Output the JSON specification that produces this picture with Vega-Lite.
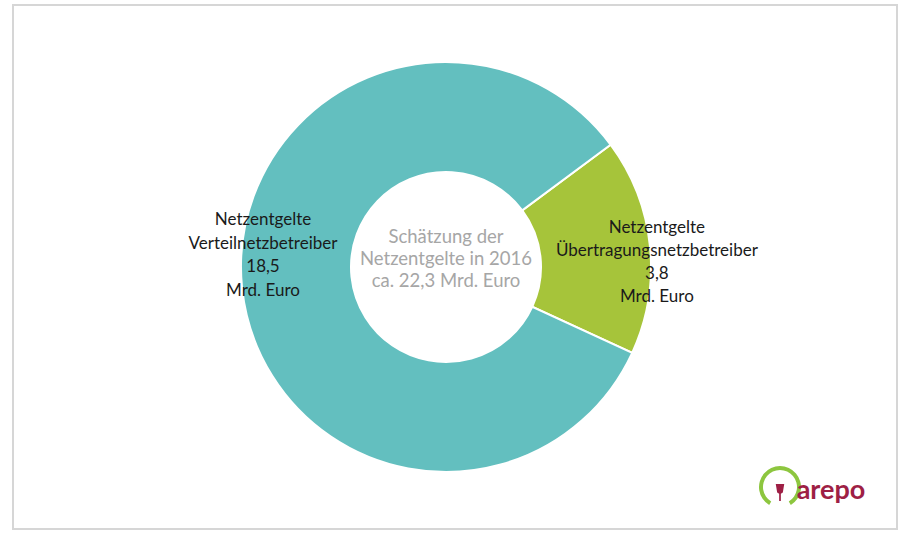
{
  "$schema": "https://vega.github.io/schema/vega-lite/v6.json",
  "autosize": {"type": "fit", "contains": "padding"},
  "width": 902,
  "height": 533,
  "padding": {"left": 13, "top": 5, "right": 5, "bottom": 4},
  "background": "white",
  "view": {"stroke": "#d6d6d6", "strokeWidth": 2},
  "config": {"view": {"stroke": "#d6d6d6", "strokeWidth": 2}, "font": "Lato"},
  "datasets": {
    "segments": [
      {"segment": "Übertragungsnetzbetreiber", "value": 3.8, "order": 1, "label": "Netzentgelte\nÜbertragungsnetzbetreiber\n3,8\nMrd. Euro"},
      {"segment": "Verteilnetzbetreiber", "value": 18.5, "order": 2, "label": "Netzentgelte\nVerteilnetzbetreiber\n18,5\nMrd. Euro"}
    ],
    "center": [{"text": "Schätzung der\nNetzentgelte in 2016\nca. 22,3 Mrd. Euro"}],
    "logo": [{"name": "arepo"}]
  },
  "layer": [
    {
      "data": {"name": "segments"},
      "mark": {"type": "arc", "innerRadius": 95, "outerRadius": 205, "stroke": "white", "strokeWidth": 2, "x": {"expr": "width/2-9"}},
      "encoding": {
        "theta": {"field": "value", "type": "quantitative", "stack": true, "scale": {"range": [0.932, 7.215]}},
        "order": {"field": "order", "type": "quantitative"},
        "color": {"field": "segment", "type": "nominal", "scale": {"domain": ["Übertragungsnetzbetreiber", "Verteilnetzbetreiber"], "range": ["#a6c43a", "#63bfbf"]}, "legend": null}
      }
    },
    {
      "data": {"name": "segments"},
      "mark": {"type": "text", "radius": 184, "dy": -66, "lineBreak": "\n", "lineHeight": 23.7, "fontSize": 17, "color": "#1a1a1a", "align": "center", "baseline": "middle", "x": {"expr": "width/2-9"}},
      "encoding": {
        "theta": {"field": "value", "type": "quantitative", "stack": true},
        "order": {"field": "order", "type": "quantitative"},
        "text": {"condition": {"test": "datum.segment === 'Verteilnetzbetreiber'", "field": "label"}, "value": ""}
      }
    },
    {
      "data": {"name": "segments"},
      "mark": {"type": "text", "radius": 212, "dy": -17, "lineBreak": "\n", "lineHeight": 23, "fontSize": 17, "color": "#1a1a1a", "align": "center", "baseline": "middle", "x": {"expr": "width/2-9"}},
      "encoding": {
        "theta": {"field": "value", "type": "quantitative", "stack": true},
        "order": {"field": "order", "type": "quantitative"},
        "text": {"condition": {"test": "datum.segment === 'Übertragungsnetzbetreiber'", "field": "label"}, "value": ""}
      }
    },
    {
      "data": {"name": "center"},
      "mark": {"type": "text", "lineBreak": "\n", "lineHeight": 22, "fontSize": 18.5, "color": "#a6a6a6", "align": "center", "baseline": "middle", "x": {"expr": "width/2-9"}, "y": {"expr": "height/2-30"}},
      "encoding": {"text": {"field": "text"}}
    },
    {
      "data": {"name": "logo"},
      "mark": {"type": "arc", "radius": 21, "radius2": 17, "theta": -2.6, "theta2": 2.6, "color": "#8dc63f", "x": {"expr": "width-117"}, "y": {"expr": "height-42"}},
      "encoding": {}
    },
    {
      "data": {"name": "logo"},
      "mark": {"type": "point", "shape": "M-0.6,-1 L0.6,-1 L0.4,0.2 L0.12,0.4 L0.12,1.4 L-0.12,1.4 L-0.12,0.4 L-0.4,0.2 Z", "size": 200, "filled": true, "color": "#9e1f45", "opacity": 1, "x": {"expr": "width-117"}, "y": {"expr": "height-38"}},
      "encoding": {}
    },
    {
      "data": {"name": "logo"},
      "mark": {"type": "text", "fontSize": 27, "fontWeight": "bold", "color": "#9e1f45", "align": "center", "baseline": "middle", "x": {"expr": "width-66"}, "y": {"expr": "height-38"}},
      "encoding": {"text": {"field": "name"}}
    }
  ]
}
